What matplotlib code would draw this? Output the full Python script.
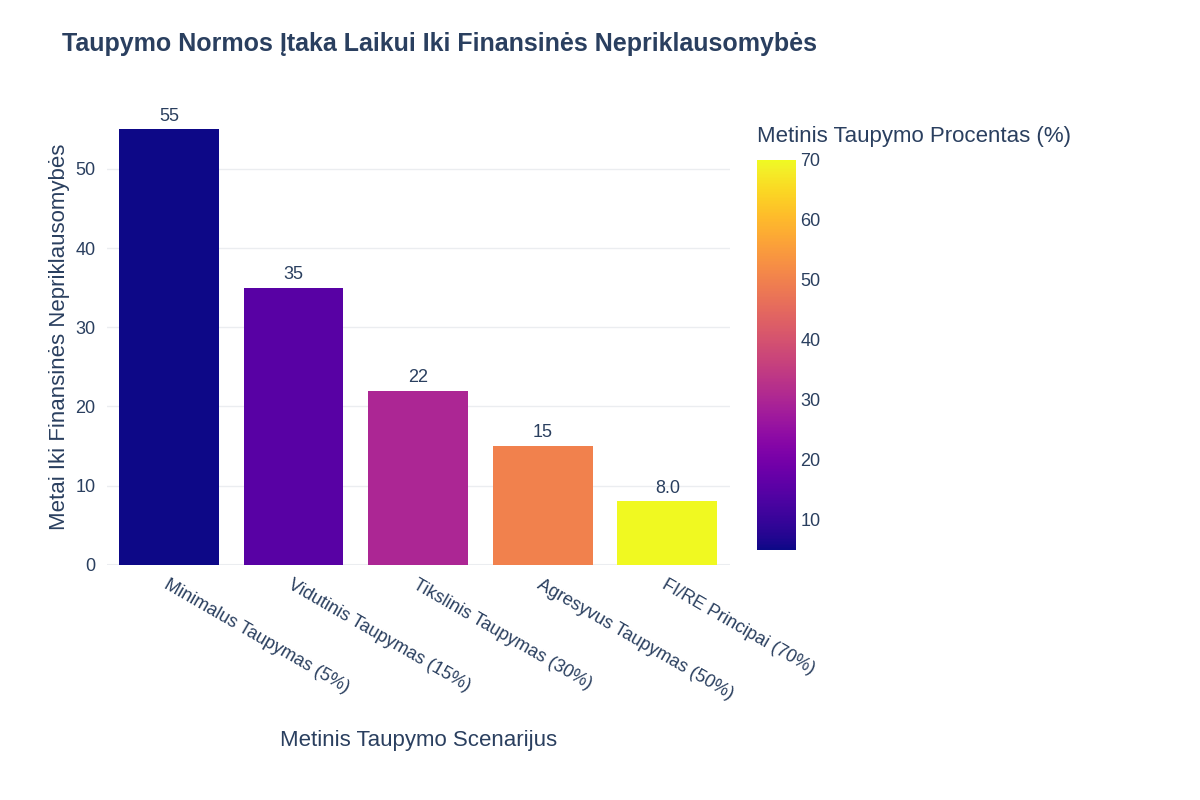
import matplotlib
matplotlib.use("Agg")
import matplotlib.pyplot as plt
import numpy as np
from matplotlib import cm, colors

categories = ["Minimalus Taupymas (5%)", "Vidutinis Taupymas (15%)", "Tikslinis Taupymas (30%)",
              "Agresyvus Taupymas (50%)", "FI/RE Principai (70%)"]
years = [55, 35, 22, 15, 8]
rates = [5, 15, 30, 50, 70]
bar_labels = ["55", "35", "22", "15", "8.0"]

plt.rcParams["font.family"] = "Liberation Sans"
tc = "#2a3f5f"
fig = plt.figure(figsize=(12, 8), dpi=100)
ax = fig.add_axes([0.089, 0.294, 0.519, 0.569])
norm = colors.Normalize(vmin=5, vmax=70)
cmap = matplotlib.colormaps["plasma"]
x = np.arange(len(categories))
ax.bar(x, years, width=0.8, color=cmap(norm(rates)), zorder=3)
for xi, v, l in zip(x, years, bar_labels):
    ax.text(xi, v + 0.6, l, ha="center", va="bottom", fontsize=13, color=tc, zorder=4)
ax.set_ylim(0, 57.5)
ax.set_xlim(-0.5, 4.5)
ax.set_yticks([0, 10, 20, 30, 40, 50])
ax.grid(axis="y", color="#ebedf0", lw=1, zorder=0)
for s in ax.spines.values():
    s.set_visible(False)
ax.axhline(0, color="#ebedf0", lw=1.5, zorder=2)
ax.tick_params(length=0, labelsize=13, colors=tc, pad=8)
ax.set_xticks(x)
ax.set_xticklabels(categories, rotation=-30, ha="left", rotation_mode="anchor")
ax.set_ylabel("Metai Iki Finansinės Nepriklausomybės", fontsize=16, color=tc)
ax.set_xlabel("Metinis Taupymo Scenarijus", fontsize=16, color=tc, labelpad=20)
fig.text(0.052, 0.945, "Taupymo Normos Įtaka Laikui Iki Finansinės Nepriklausomybės",
         fontsize=18, fontweight="bold", color=tc, va="center")

cax = fig.add_axes([0.631, 0.3125, 0.032, 0.4875])
cb = fig.colorbar(cm.ScalarMappable(norm=norm, cmap=cmap), cax=cax)
cb.outline.set_visible(False)
cb.set_ticks([10, 20, 30, 40, 50, 60, 70])
cax.tick_params(length=0, labelsize=13, colors=tc)
fig.text(0.631, 0.829, "Metinis Taupymo Procentas (%)", fontsize=16, color=tc, va="center")
fig.savefig("out.png")
